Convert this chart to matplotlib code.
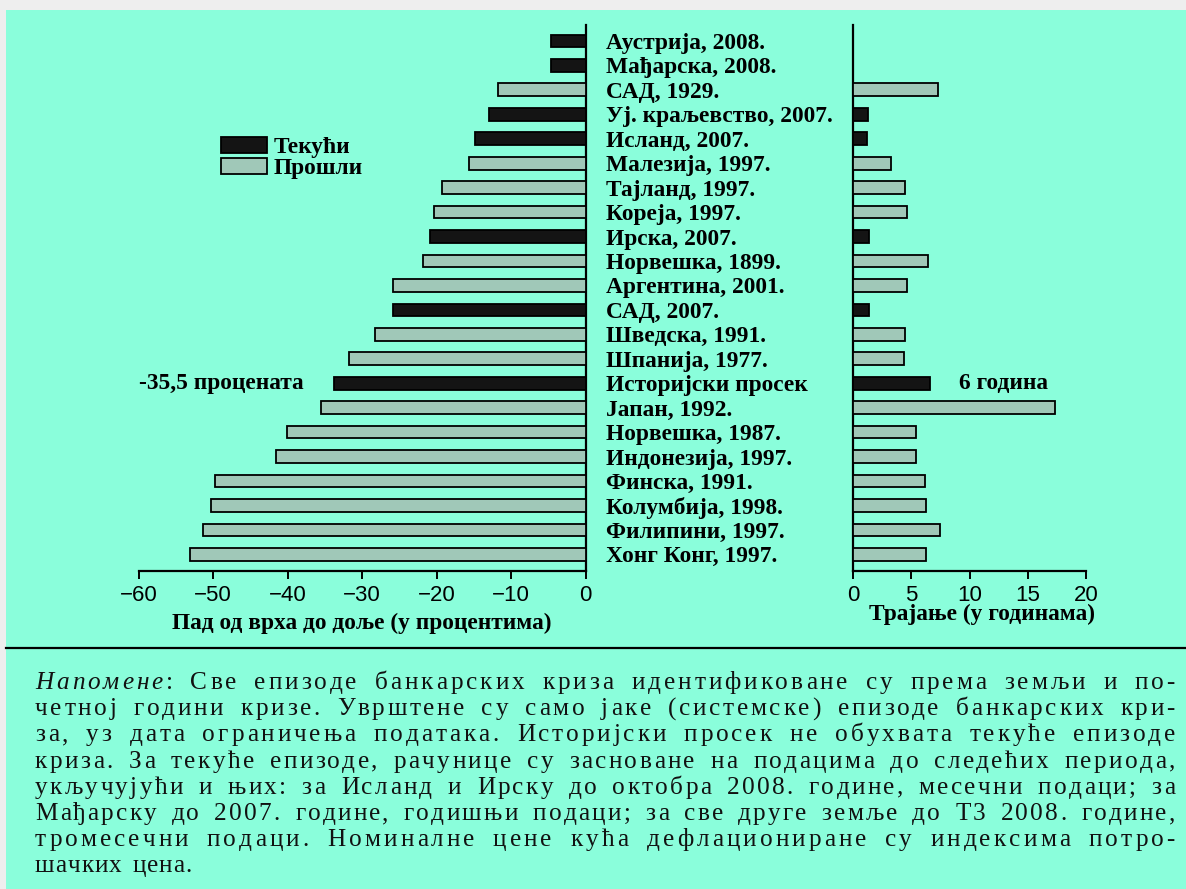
import numpy as np
import matplotlib
matplotlib.use("Agg")
import matplotlib.pyplot as plt
from matplotlib.patches import Patch, Rectangle
from matplotlib.lines import Line2D
from matplotlib.font_manager import FontProperties, findfont, get_font

# --- подаци ---
zemlje = [
    "Аустрија, 2008.", "Мађарска, 2008.", "САД, 1929.", "Уј. краљевство, 2007.",
    "Исланд, 2007.", "Малезија, 1997.", "Тајланд, 1997.", "Кореја, 1997.",
    "Ирска, 2007.", "Норвешка, 1899.", "Аргентина, 2001.", "САД, 2007.",
    "Шведска, 1991.", "Шпанија, 1977.", "Историјски просек", "Јапан, 1992.",
    "Норвешка, 1987.", "Индонезија, 1997.", "Финска, 1991.", "Колумбија, 1998.",
    "Филипини, 1997.", "Хонг Конг, 1997.",
]
# 1 = текући (црно), 0 = прошли
tekuci = [1, 1, 0, 1, 1, 0, 0, 0, 1, 0, 0, 1, 0, 0, 1, 0, 0, 0, 0, 0, 0, 0]
pad = [-4.6, -4.6, -11.7, -13.0, -14.8, -15.7, -19.3, -20.3, -20.9, -21.8,
       -25.9, -25.9, -28.3, -31.8, -33.8, -35.5, -40.1, -41.5, -49.7, -50.3,
       -51.3, -53.1]
trajanje = [np.nan, np.nan, 7.3, 1.3, 1.2, 3.3, 4.5, 4.6, 1.35, 6.4,
            4.6, 1.4, 4.5, 4.4, 6.6, 17.3, 5.4, 5.4, 6.2, 6.3, 7.5, 6.3]
left_ticks = [-60, -50, -40, -30, -20, -10, 0]
right_ticks = [0, 5, 10, 15, 20]

napomena = [
    "Напомене: Све епизоде банкарских криза идентификоване су према земљи и по-",
    "четној години кризе. Уврштене су само јаке (системске) епизоде банкарских кри-",
    "за, уз дата ограничења података. Историјски просек не обухвата текуће епизоде",
    "криза. За текуће епизоде, рачунице су засноване на подацима до следећих периода,",
    "укључујући и њих: за Исланд и Ирску до октобра 2008. године, месечни подаци; за",
    "Мађарску до 2007. године, годишњи подаци; за све друге земље до Т3 2008. године,",
    "тромесечни подаци. Номиналне цене кућа дефлациониране су индексима потро-",
    "шачких цена.",
]

BG = "#8afedb"
DARK = "#141414"
PAST = "#a0c8b8"
W, H = 1186, 889
LBL = 16.8  # величина ознака

plt.rcParams["font.family"] = ["Liberation Sans", "DejaVu Sans"]
SERIF = ["Liberation Serif", "DejaVu Serif"]

fig = plt.figure(figsize=(W / 100, H / 100), dpi=100)
fig.patch.set_facecolor("#eeeeee")
fig.add_artist(Rectangle((6 / W, 0), 1 - 6 / W, 1 - 10 / H, transform=fig.transFigure,
                         facecolor=BG, edgecolor="none", zorder=0))

y = np.arange(len(zemlje))
boje = [DARK if t else PAST for t in tekuci]
ylim = (len(zemlje) - 1 + 0.68, -0.65)

# --- леви панел ---
axL = fig.add_axes([138.5 / W, 1 - 571 / H, 447 / W, 546 / H])
axL.set_facecolor("none")
axL.barh(y, pad, height=0.52, color=boje, edgecolor="black", linewidth=1.3, zorder=3)
axL.set_xlim(-60, 0)
axL.set_ylim(*ylim)
for s in ["left", "top"]:
    axL.spines[s].set_visible(False)
for s in ["right", "bottom"]:
    axL.spines[s].set_linewidth(1.6)
axL.set_xticks(left_ticks)
axL.tick_params(axis="x", direction="out", length=6, width=1.4, labelsize=16, pad=4)
axL.yaxis.tick_right()
axL.set_yticks(y, zemlje)
axL.tick_params(axis="y", length=0, pad=14.5)
for t in axL.get_yticklabels():
    t.set_fontfamily(SERIF)
    t.set_fontsize(LBL)
    t.set_fontweight("bold")
    t.set_horizontalalignment("left")
axL.set_xlabel("Пад од врха до доље (у процентима)", family=SERIF, fontsize=LBL,
               fontweight="bold", labelpad=5)

i_hist = zemlje.index("Историјски просек")
axL.annotate("-35,5 процената", xy=(pad[i_hist], i_hist), xytext=(-22, 0),
             textcoords="offset points", ha="right", va="center",
             family=SERIF, fontsize=LBL, fontweight="bold")

axL.legend(handles=[Patch(facecolor=DARK, edgecolor="black", linewidth=1.3),
                    Patch(facecolor=PAST, edgecolor="black", linewidth=1.3)],
           labels=["Текући", "Прошли"], loc="upper left",
           bbox_to_anchor=(221 / W, 1 - 137 / H), bbox_transform=fig.transFigure,
           frameon=False, handlelength=1.95, handleheight=0.65, handletextpad=0.3,
           labelspacing=0.0, borderpad=0, borderaxespad=0,
           prop=FontProperties(family=SERIF, size=16.8, weight="bold"))

# --- десни панел ---
axR = fig.add_axes([853 / W, 1 - 571 / H, 233 / W, 546 / H])
axR.set_facecolor("none")
axR.barh(y, trajanje, height=0.52, color=boje, edgecolor="black", linewidth=1.3, zorder=3)
axR.set_xlim(0, 20)
axR.set_ylim(*ylim)
for s in ["right", "top"]:
    axR.spines[s].set_visible(False)
for s in ["left", "bottom"]:
    axR.spines[s].set_linewidth(1.6)
axR.set_xticks(right_ticks)
axR.set_yticks([])
axR.tick_params(axis="x", direction="out", length=6, width=1.4, labelsize=16, pad=4)
axR.set_xlabel("Трајање (у годинама)", family=SERIF, fontsize=LBL, fontweight="bold")
axR.xaxis.set_label_coords(0.555, -0.061)
axR.annotate("6 година", xy=(trajanje[i_hist], i_hist), xytext=(21, 0),
             textcoords="offset points", ha="left", va="center",
             family=SERIF, fontsize=LBL, fontweight="bold")

# --- линија и напомена ---
fig.add_artist(Line2D([6 / W, 1], [1 - 648 / H] * 2, transform=fig.transFigure,
                      color="black", linewidth=1.6))

NOTE_SIZE = 18.2
p_reg = FontProperties(family=SERIF, size=NOTE_SIZE)
p_it = FontProperties(family=SERIF, size=NOTE_SIZE, style="italic")


def advance(c, prop):
    font = get_font(findfont(prop))
    font.set_size(NOTE_SIZE, 100)
    return font.load_char(ord(c)).linearHoriAdvance / 65536


# обострано поравнат текст: сваки знак посебно, вишак размака се распоређује
x0, x1 = 35, 1175
base0, step = 689, 26.2
for li, line in enumerate(napomena):
    props = [p_it if (li == 0 and k < 8) else p_reg for k in range(len(line))]
    adv = [advance(c, p) for c, p in zip(line, props)]
    natural = sum(adv)
    last = li == len(napomena) - 1
    weights = [3.0 if line[k] == " " else 1.0 for k in range(len(line) - 1)]
    extra = 1.2 * len(weights) if last else (x1 - x0) - natural
    unit = extra / sum(weights)
    x = x0
    yb = base0 + li * step
    for k, c in enumerate(line):
        if c != " ":
            fig.text(x / W, 1 - yb / H, c, fontproperties=props[k], color="#111111",
                     ha="left", va="baseline")
        x += adv[k]
        if k < len(weights):
            x += unit * weights[k]

fig.savefig("out.png", dpi=100, facecolor=fig.get_facecolor())
